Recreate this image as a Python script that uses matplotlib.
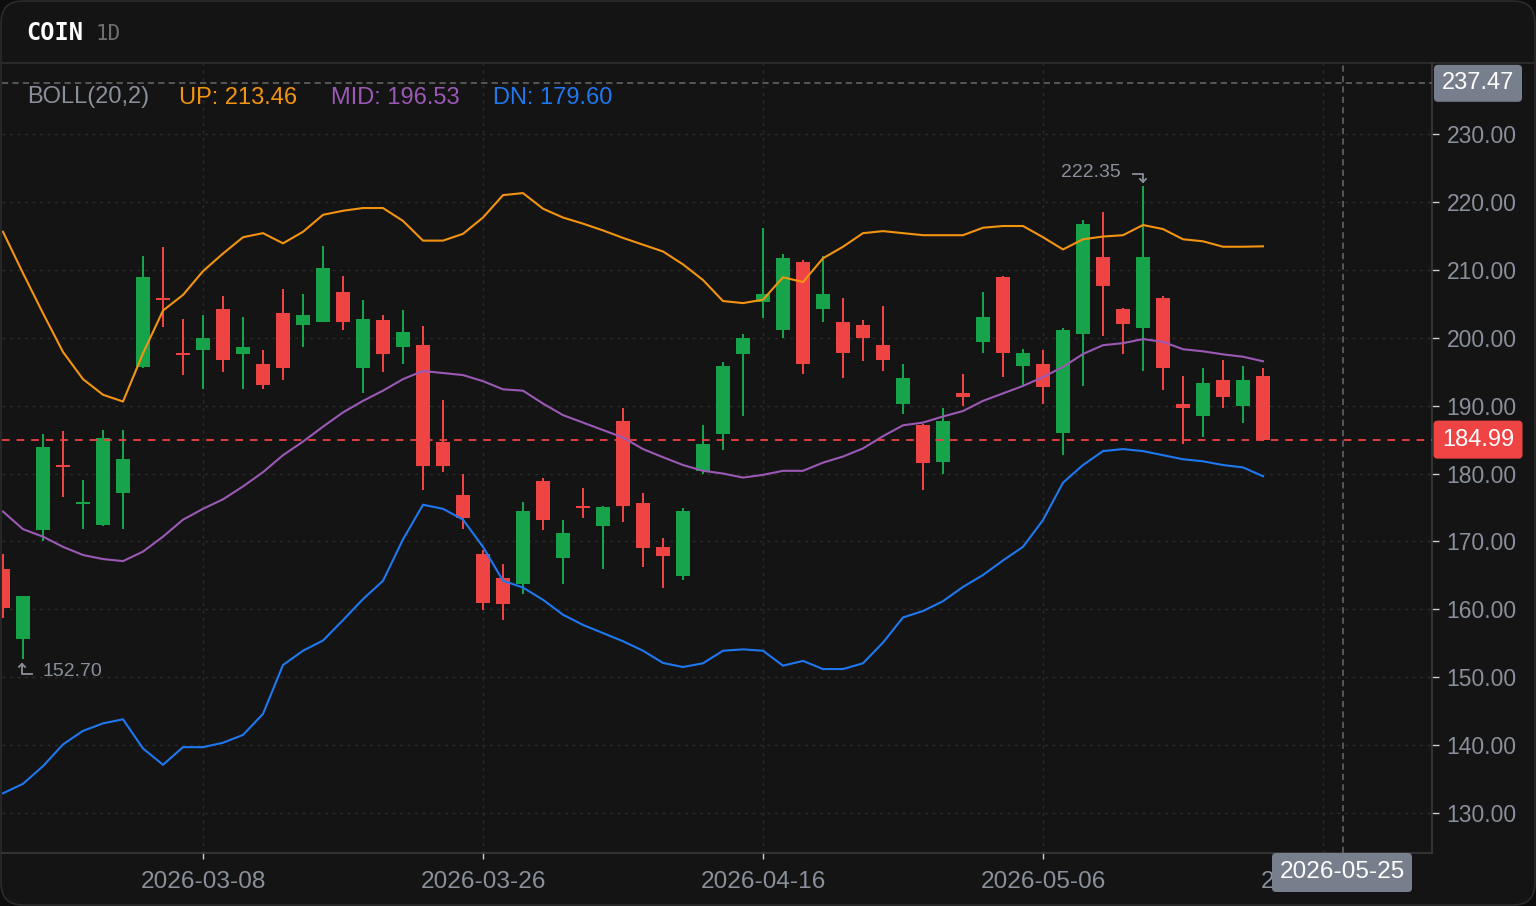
import matplotlib
matplotlib.use('Agg')
import matplotlib.pyplot as plt
from matplotlib.patches import FancyBboxPatch
from matplotlib.lines import Line2D
from matplotlib.transforms import IdentityTransform

plt.rcParams['lines.scale_dashes'] = False

# ---------------- data ----------------
ticker = 'COIN'
interval = '1D'
opens = [166.0, 155.7, 171.7, 181.3, 175.5, 172.4, 177.2, 195.7, 205.8, 197.7,
         198.2, 204.3, 197.6, 196.1, 203.7, 201.9, 202.3, 206.7, 195.5, 202.6,
         198.7, 199.0, 184.7, 176.9, 168.1, 164.6, 163.7, 178.9, 167.5, 175.1,
         172.3, 187.8, 175.7, 169.2, 164.9, 180.3, 185.8, 197.6, 205.2, 201.1,
         211.1, 204.3, 202.3, 201.9, 199.0, 190.2, 187.2, 181.7, 191.9, 199.4,
         209.0, 195.8, 196.1, 186.0, 200.5, 211.9, 204.3, 201.4, 205.8, 190.2,
         188.5, 193.8, 189.9, 194.4]
highs = [168.1, 162.0, 185.8, 186.3, 179.0, 186.4, 186.4, 212.0, 213.4, 202.8,
         203.4, 206.1, 203.1, 198.2, 207.2, 206.4, 213.5, 209.1, 205.6, 203.4,
         204.1, 201.7, 190.8, 179.9, 168.7, 166.6, 175.8, 179.3, 173.2, 177.8,
         175.2, 189.6, 177.2, 170.5, 174.9, 187.2, 196.4, 200.5, 216.1, 212.3,
         211.4, 212.0, 205.8, 202.6, 204.7, 196.1, 187.3, 189.6, 194.6, 206.7,
         209.1, 198.4, 198.2, 201.4, 217.4, 218.5, 204.4, 222.35, 206.1, 194.4,
         195.5, 196.7, 195.8, 195.5]
lows = [158.7, 152.7, 170.0, 176.6, 171.9, 172.2, 171.9, 195.5, 201.6, 194.5,
        192.5, 194.9, 192.5, 192.5, 193.7, 198.7, 202.3, 201.1, 191.9, 194.9,
        196.1, 177.6, 180.2, 171.9, 159.9, 158.4, 162.2, 171.7, 163.7, 173.4,
        166.0, 172.9, 166.3, 163.1, 164.3, 179.9, 183.5, 188.4, 202.9, 199.9,
        194.6, 202.3, 194.0, 196.6, 195.1, 188.7, 177.6, 179.9, 189.9, 197.8,
        194.2, 193.1, 190.2, 182.8, 192.9, 200.3, 197.6, 195.1, 192.3, 184.3,
        185.4, 189.6, 187.5, 184.8]
closes = [160.2, 161.9, 183.9, 181.0, 175.7, 185.2, 182.2, 209.0, 205.6, 197.4,
          199.9, 196.7, 198.7, 193.1, 195.5, 203.4, 210.2, 202.3, 202.8, 197.6,
          200.8, 181.1, 181.1, 173.4, 161.0, 160.8, 174.5, 173.2, 171.3, 174.9,
          175.1, 175.2, 169.0, 167.9, 174.5, 184.3, 195.8, 199.9, 206.4, 211.7,
          196.1, 206.4, 197.8, 199.9, 196.7, 194.0, 181.6, 187.8, 191.3, 203.1,
          197.8, 197.8, 192.8, 201.1, 216.7, 207.6, 202.0, 211.9, 195.5, 189.6,
          193.4, 191.3, 193.8, 184.99]
boll_up = [215.6, 209.5, 203.6, 197.9, 193.9, 191.6, 190.6, 197.7, 204.0, 206.3,
           209.8, 212.4, 214.8, 215.4, 213.9, 215.6, 218.1, 218.7, 219.1, 219.1,
           217.2, 214.3, 214.3, 215.3, 217.7, 221.0, 221.3, 219.0, 217.7, 216.8,
           215.8, 214.7, 213.7, 212.7, 210.8, 208.5, 205.4, 205.1, 205.6, 208.9,
           208.2, 211.7, 213.4, 215.4, 215.7, 215.4, 215.1, 215.1, 215.1, 216.2,
           216.45, 216.45, 214.8, 213.0, 214.5, 214.9, 215.1, 216.6, 216.0, 214.5,
           214.2, 213.4, 213.4, 213.46]
boll_mid = [174.4, 171.8, 170.7, 169.2, 168.0, 167.4, 167.1, 168.5, 170.7, 173.2,
            174.8, 176.2, 178.1, 180.2, 182.7, 184.7, 186.9, 189.0, 190.7, 192.2,
            193.9, 195.1, 194.8, 194.5, 193.6, 192.4, 192.2, 190.3, 188.6, 187.5,
            186.4, 185.3, 183.6, 182.4, 181.25, 180.4, 180.0, 179.4, 179.8, 180.4,
            180.4, 181.6, 182.5, 183.7, 185.5, 187.1, 187.5, 188.4, 189.2, 190.7,
            191.8, 192.9, 194.2, 195.7, 197.6, 198.9, 199.2, 199.8, 199.4, 198.3,
            198.0, 197.55, 197.2, 196.53]
boll_dn = [132.9, 134.3, 136.9, 140.1, 142.1, 143.2, 143.8, 139.5, 137.1, 139.7,
           139.7, 140.35, 141.5, 144.6, 151.8, 153.9, 155.4, 158.4, 161.5, 164.2,
           170.3, 175.4, 174.8, 173.2, 169.2, 164.2, 163.2, 161.4, 159.2, 157.7,
           156.5, 155.3, 153.9, 152.1, 151.5, 152.05, 153.9, 154.1, 153.9, 151.7,
           152.4, 151.2, 151.2, 152.05, 155.1, 158.8, 159.75, 161.2, 163.3, 165.05,
           167.2, 169.2, 173.15, 178.65, 181.25, 183.3, 183.6, 183.3, 182.7, 182.1,
           181.8, 181.25, 180.9, 179.6]
x_tick_idx = [10, 24, 38, 52, 66]
x_tick_labels = ['2026-03-08', '2026-03-26', '2026-04-16', '2026-05-06', '2026-05-22']
y_ticks = [130, 140, 150, 160, 170, 180, 190, 200, 210, 220, 230]
last_price = 184.99
cross_price = 237.47
cross_idx = 67
cross_date = '2026-05-25'
boll_label = 'BOLL(20,2)'

# ---------------- style ----------------
W, H = 1536, 906
BG = '#141414'
GREEN = '#16a34a'
RED = '#ef4444'
ORANGE = '#f39410'
PURPLE = '#9b59b6'
BLUE = '#1f78f0'
TXT = '#8a909b'
BOXG = '#787f8c'
FONT = 'Liberation Sans'

fig = plt.figure(figsize=(W / 100, H / 100), dpi=100, facecolor='#0d0d0d')
fig.add_artist(FancyBboxPatch((1, 1), W - 2, H - 2,
                              boxstyle='round,pad=0,rounding_size=22',
                              transform=IdentityTransform(), fc=BG, ec='#2c2c2c',
                              lw=1.2, zorder=-5))
fig.add_artist(Line2D([1, W - 1], [H - 63, H - 63], transform=IdentityTransform(),
                      color='#2a2a2a', lw=1.4, zorder=-4))

ax = fig.add_axes([2 / W, 53 / H, 1430 / W, 790 / H])
ax.set_facecolor('none')
ax.set_xlim(-0.05, 71.45)
ax.set_ylim(124.11, 240.46)

for s in ['top', 'left']:
    ax.spines[s].set_visible(False)
for s in ['right', 'bottom']:
    ax.spines[s].set_color('#3a3a3a')
    ax.spines[s].set_linewidth(1.2)

ax.yaxis.tick_right()
ax.set_yticks(y_ticks)
ax.set_yticklabels([f'{v:.2f}' for v in y_ticks], fontfamily=FONT, fontsize=16.5, color=TXT)
ax.set_xticks(x_tick_idx)
ax.set_xticklabels(x_tick_labels, fontfamily=FONT, fontsize=17.6, color=TXT)
ax.tick_params(axis='y', length=5, width=1, color='#cccccc', pad=5.5)
ax.tick_params(axis='x', length=4.5, width=1, color='#cccccc', pad=8.5)
ax.grid(True, color='#2a2a2a', lw=1, linestyle=(0, (2.2, 3.2)))
ax.set_axisbelow(True)

# candles
n = len(closes)
xs = list(range(n))
cols = [GREEN if c >= o else RED for o, c in zip(opens, closes)]
ax.vlines(xs, lows, highs, colors=cols, lw=1.45, zorder=3)
bottoms = [min(o, c) for o, c in zip(opens, closes)]
heights = [max(abs(c - o), 0.3) for o, c in zip(opens, closes)]
ax.bar(xs, heights, bottom=bottoms, width=0.7, color=cols, lw=0, zorder=4)

# bollinger
ax.plot(xs, boll_up, color=ORANGE, lw=1.5, zorder=5)
ax.plot(xs, boll_mid, color=PURPLE, lw=1.5, zorder=5)
ax.plot(xs, boll_dn, color=BLUE, lw=1.5, zorder=5)

# last price + crosshair
ax.axhline(last_price, color=RED, lw=1.3, linestyle=(0, (5.5, 5)), zorder=6)
ax.axhline(cross_price, color='#6a6a6a', lw=1.1, linestyle=(0, (4.5, 3)), zorder=6)
ax.axvline(cross_idx, color='#6a6a6a', lw=1.1, linestyle=(0, (4.5, 3)), zorder=6)

# legend text
leg_y = H - 97.5
for txt, col, px in [(boll_label, TXT, 27), (f'UP: {boll_up[-1]:.2f}', ORANGE, 179),
                     (f'MID: {boll_mid[-1]:.2f}', PURPLE, 331),
                     (f'DN: {boll_dn[-1]:.2f}', BLUE, 493)]:
    fig.text(px / W, leg_y / H, txt, color=col, fontfamily=FONT, fontsize=17,
             ha='left', va='center')

# header
fig.text(26 / W, (H - 33) / H, ticker, color='white', fontfamily='DejaVu Sans Mono',
         fontweight='bold', fontsize=17, ha='left', va='center')
fig.text(96 / W, (H - 33.5) / H, interval, color='#6f6f6f', fontfamily='DejaVu Sans Mono',
         fontsize=15, ha='left', va='center')

# boxes
def pbox(cx, cy, w, h, fc, text, size=16.5):
    fig.add_artist(FancyBboxPatch((cx - w / 2, cy - h / 2), w, h,
                                  boxstyle='round,pad=0,rounding_size=4',
                                  transform=IdentityTransform(), fc=fc, ec='none', zorder=20))
    fig.text(cx / W, cy / H, text, color='white', fontfamily=FONT, fontsize=size,
             ha='center', va='center', zorder=21)

ycr = ax.transData.transform((0, cross_price))[1]
ylp = ax.transData.transform((0, last_price))[1]
xcr = ax.transData.transform((cross_idx, 0))[0]
pbox(1478, ycr, 88, 37, BOXG, f'{cross_price:.2f}', 17)
pbox(1478, ylp, 89, 38, RED, f'{last_price:.2f}', 17)
pbox(xcr - 1, H - 872.5, 140, 39, BOXG, cross_date, 17.6)

# high / low annotations
hi_i = max(range(n), key=lambda i: highs[i])
lo_i = min(range(n), key=lambda i: lows[i])
hx, hy = ax.transData.transform((hi_i, highs[hi_i]))
lx, ly = ax.transData.transform((lo_i, lows[lo_i]))
acol = '#8a909b'
def pline(px, py):
    fig.add_artist(Line2D(px, py, transform=IdentityTransform(), color=acol, lw=1.3, zorder=7))
pline([hx - 10, hx, hx], [hy + 12, hy + 12, hy + 4])
pline([hx - 3, hx, hx + 3], [hy + 7, hy + 4, hy + 7])
fig.text((hx - 22) / W, (hy + 13) / H, f'{highs[hi_i]:.2f}', color=acol, fontfamily=FONT,
         fontsize=14, ha='right', va='center')
pline([lx - 1, lx - 1, lx + 9], [ly - 5, ly - 15, ly - 15])
pline([lx - 4, lx - 1, lx + 2], [ly - 8, ly - 5, ly - 8])
fig.text((lx + 20) / W, (ly - 13) / H, f'{lows[lo_i]:.2f}', color=acol, fontfamily=FONT,
         fontsize=14, ha='left', va='center')

fig.savefig('out.png', dpi=100, facecolor=fig.get_facecolor())
